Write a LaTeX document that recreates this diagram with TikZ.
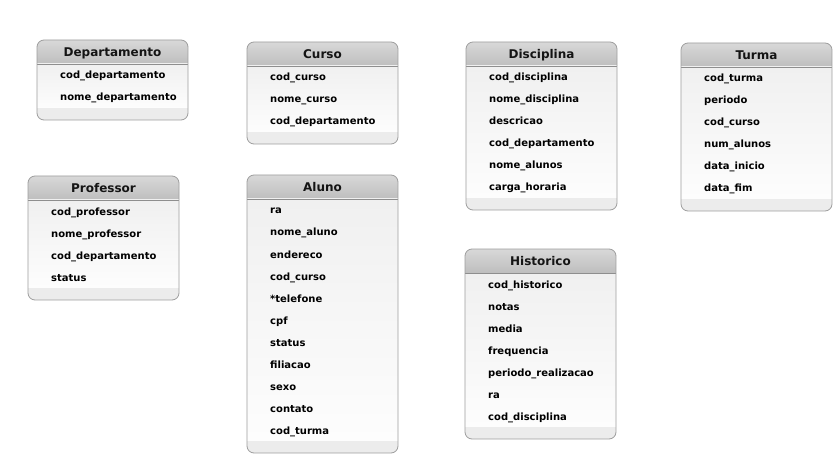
\documentclass[tikz,border=0pt]{standalone}
\usepackage{fontspec}
\setmainfont{DejaVu Sans}
\definecolor{hdtop}{HTML}{D8D8D8}
\definecolor{hdbot}{HTML}{BEBEBE}
\definecolor{bdtop}{HTML}{F0F0F0}
\definecolor{bdbot}{HTML}{FDFDFD}
\definecolor{stripcol}{HTML}{ECECEC}
\definecolor{bordergray}{HTML}{9E9E9E}
\definecolor{hdlinecol}{HTML}{8E8E8E}
\tikzset{
  tblborder/.style={draw=bordergray, line width=0.8pt, rounded corners=7pt},
  hdline/.style={draw=hdlinecol, line width=0.6pt},
  tbltitle/.style={font=\fontsize{12}{14}\selectfont\bfseries, text=black!92, inner sep=0pt, anchor=base},
  tblrow/.style={font=\fontsize{10}{12}\selectfont\bfseries, text=black, inner sep=0pt, anchor=base west},
}
\newcommand\ertable[5]{%
  \pgfmathsetmacro\xl{#2}\pgfmathsetmacro\xr{#2+151}%
  \pgfmathsetmacro\yt{#3}\pgfmathsetmacro\yh{#3+24}%
  \pgfmathsetmacro\ys{#3+35+22*(#5-1)+11}%
  \pgfmathsetmacro\yb{#3+35+22*(#5-1)+23}%
  \begin{scope}
    \clip[rounded corners=7pt] (\xl,\yt) rectangle (\xr,\yb);
    \shade[top color=hdtop,bottom color=hdbot] (\xl,\yt) rectangle (\xr,\yh);
    \shade[top color=bdtop,bottom color=bdbot] (\xl,\yh) rectangle (\xr,\ys);
    \fill[stripcol] (\xl,\ys) rectangle (\xr,\yb);
  \end{scope}
  \draw[hdline] (\xl,\yh) -- (\xr,\yh);
  \draw[tblborder] (\xl,\yt) rectangle (\xr,\yb);
  \node[tbltitle] (#1) at (#2+75.5,#3+16.5) {#1};
  \foreach \r [count=\i] in {#4} \node[tblrow] (#1-\i) at (#2+23,#3+17+22*\i) {\r};
}
\begin{document}
\begin{tikzpicture}[x=1pt,y=-1pt]
\fill[white] (0,0) rectangle (835,457);
\useasboundingbox (0,0) rectangle (835,457);
\ertable{Departamento}{37}{40}{cod\_departamento,nome\_departamento}{2}
\ertable{Curso}{247}{42}{cod\_curso,nome\_curso,cod\_departamento}{3}
\ertable{Disciplina}{466}{42}{cod\_disciplina,nome\_disciplina,descricao,cod\_departamento,nome\_alunos,carga\_horaria}{6}
\ertable{Turma}{681}{43}{cod\_turma,periodo,cod\_curso,num\_alunos,data\_inicio,data\_fim}{6}
\ertable{Professor}{28}{176}{cod\_professor,nome\_professor,cod\_departamento,status}{4}
\ertable{Aluno}{247}{175}{ra,nome\_aluno,endereco,cod\_curso,*telefone,cpf,status,filiacao,sexo,contato,cod\_turma}{11}
\ertable{Historico}{465}{249}{cod\_historico,notas,media,frequencia,periodo\_realizacao,ra,cod\_disciplina}{7}
\end{tikzpicture}
\end{document}
